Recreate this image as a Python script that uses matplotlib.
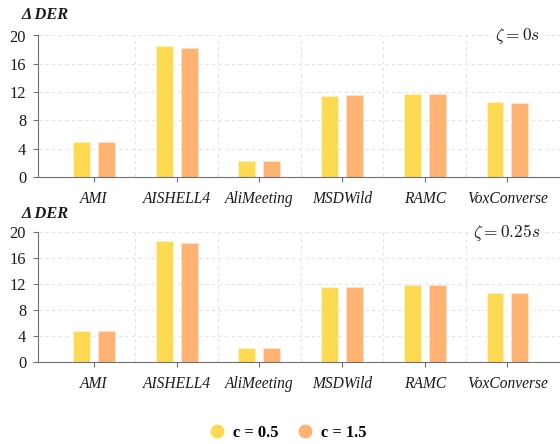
import matplotlib.pyplot as plt
import numpy as np
from matplotlib.lines import Line2D

plt.rcParams['font.family'] = ['Liberation Serif', 'DejaVu Serif']
plt.rcParams['mathtext.fontset'] = 'cm'

# ---------- Data ----------
datasets = ["AMI", "AISHELL4", "AliMeeting", "MSDWild", "RAMC", "VoxConverse"]
series_names = ["c = 0.5", "c = 1.5"]
panel_labels = [r"$\zeta = 0s$", r"$\zeta = 0.25s$"]

# delta DER, collar 0s
der_0_c05 = [4.9, 18.45, 2.2, 11.45, 11.75, 10.6]
der_0_c15 = [4.9, 18.2, 2.2, 11.55, 11.8, 10.5]
# delta DER, collar 0.25s
der_25_c05 = [4.85, 18.6, 2.25, 11.55, 11.85, 10.6]
der_25_c15 = [4.85, 18.35, 2.25, 11.6, 11.85, 10.6]

y_ticks = [0, 4, 8, 12, 16, 20]

colors = ["#fed952", "#feb373"]
axis_col = "#6e7079"
grid_col = "#e0e3ea"
text_col = "#1a1a1a"

# ---------- Plotting ----------
fig = plt.figure(figsize=(5.6, 4.44), dpi=100)
ax_top = fig.add_axes([38/560, 1-177/444, 522/560, 141.5/444])
ax_bot = fig.add_axes([38/560, 1-362.3/444, 522/560, 130/444])

x = np.arange(len(datasets))
w = 0.205 # bar width
off = 0.151 # offset of each bar from the category centre

panels = [(ax_top, der_0_c05, der_0_c15), (ax_bot, der_25_c05, der_25_c15)]

for i, (ax, s1, s2) in enumerate(panels):
    ax.bar(x - off, s1, width=w, color=colors[0], edgecolor="#fff3c8", linewidth=0.6, zorder=2)
    ax.bar(x + off, s2, width=w, color=colors[1], edgecolor="#ffe3cc", linewidth=0.6, zorder=2)

    ax.set_xlim(-0.677, 5.635)
    ax.set_ylim(0, 20)
    ax.set_yticks(y_ticks)
    ax.set_xticks(x)
    ax.set_xticklabels(datasets, fontstyle='italic', fontsize=11.2, color=text_col)
    ax.tick_params(axis='y', labelsize=11.8, labelcolor=text_col, length=3.5, color=axis_col, pad=5, width=0.8)
    ax.tick_params(axis='x', length=3.5, color=axis_col, pad=6.5, width=0.8)

    # grid lines
    for yv in y_ticks[1:]:
        ax.axhline(yv, color=grid_col, linestyle=(0, (3, 3)), linewidth=0.8, zorder=1)
    for xv in x[:-1] + 0.5:
        ax.axvline(xv, color=grid_col, linestyle=(0, (3, 3)), linewidth=0.8, zorder=1)

    for sp in ["top", "right"]:
        ax.spines[sp].set_visible(False)
    ax.spines["left"].set_color(axis_col)
    ax.spines["bottom"].set_color(axis_col)
    ax.spines["left"].set_linewidth(0.8)
    ax.spines["bottom"].set_linewidth(0.8)

    ax.text(0.962, 1.0, panel_labels[i], transform=ax.transAxes, ha='right', va='center',
            fontsize=12.5, color=text_col,
            bbox=dict(facecolor='white', edgecolor='none', pad=1))

# axis titles
fig.text(22/560, 1-15/444, "Δ DER", fontsize=11.8, fontweight='bold', fontstyle='italic', va='center', color=text_col)
fig.text(22/560, 1-214/444, "Δ DER", fontsize=11.8, fontweight='bold', fontstyle='italic', va='center', color=text_col)

# legend
handles = [Line2D([], [], marker='o', linestyle='none', markersize=9, color=c) for c in colors]
leg = fig.legend(handles, series_names, loc='center', bbox_to_anchor=(0.512, 1-433/444), ncol=2,
                 frameon=False, prop={'weight': 'bold', 'size': 11.8}, handletextpad=0.4,
                 columnspacing=1.0, handlelength=1.2)

fig.savefig("out.png", dpi=100)
